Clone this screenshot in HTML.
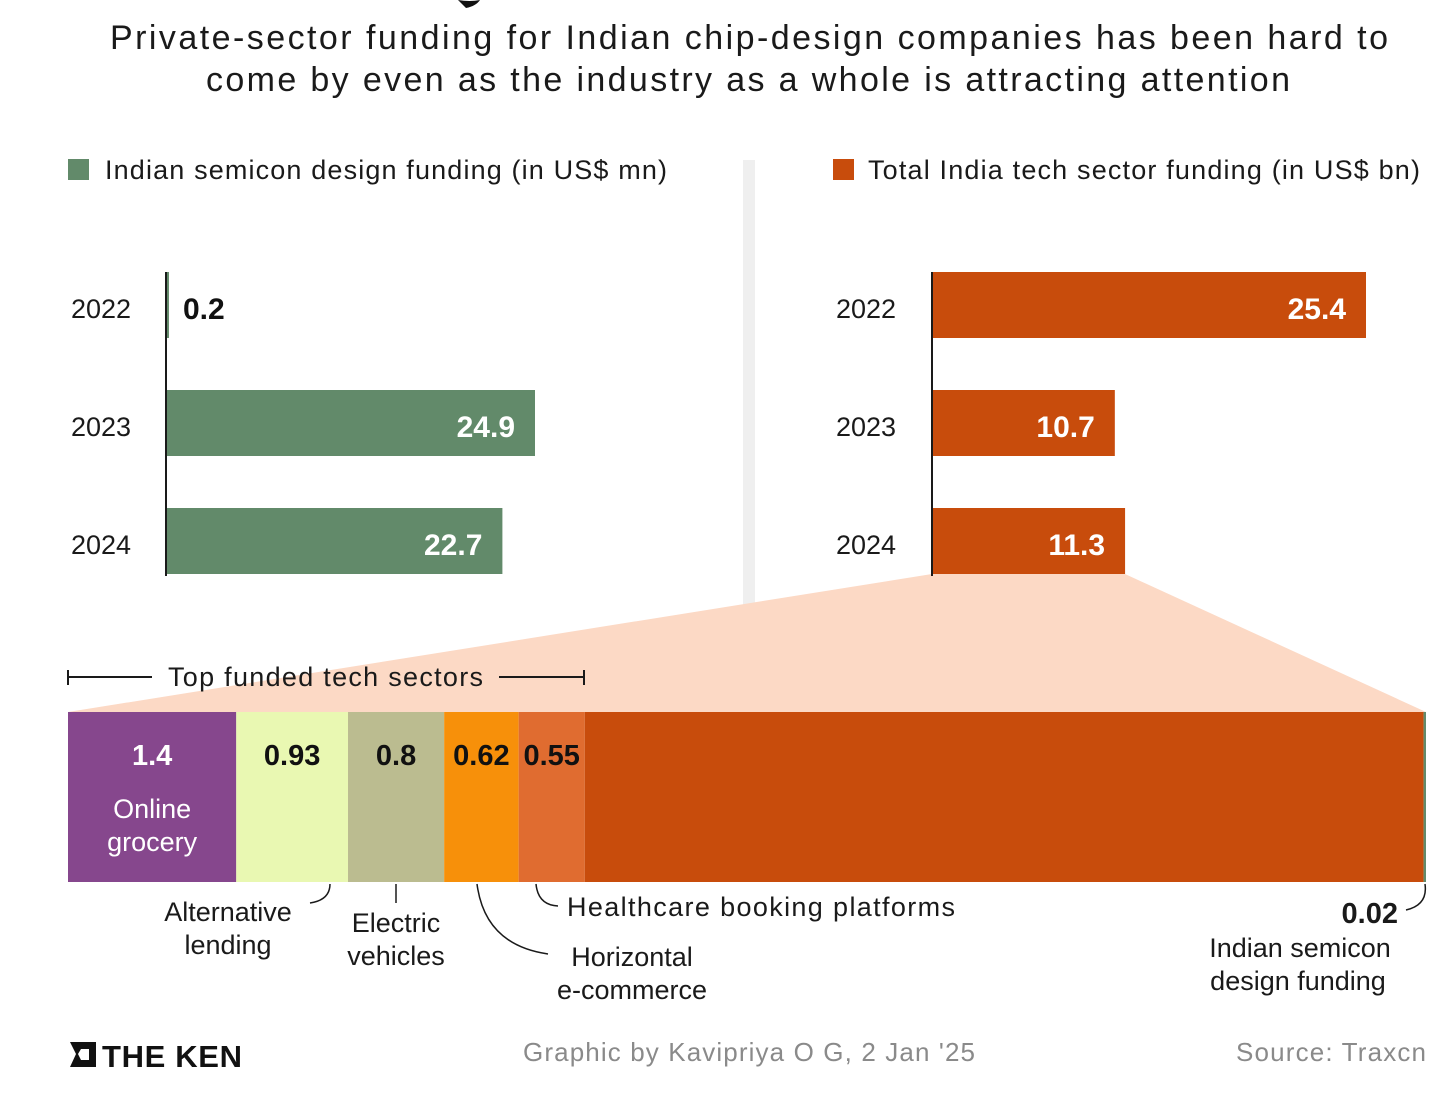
<!DOCTYPE html>
<html><head><meta charset="utf-8"><style>
html,body{margin:0;padding:0;background:#fff;}
svg{display:block;font-family:"Liberation Sans",sans-serif;}
</style></head><body>
<svg id="c" width="1456" height="1104" viewBox="0 0 1456 1104" xmlns="http://www.w3.org/2000/svg">
<path d="M458,0 Q470,2 480,0 Q476,6 466,8 Z" fill="#111"/>
<text x="749" y="49" text-anchor="middle" font-size="34" fill="#1a1a1a" textLength="1278">Private-sector funding for Indian chip-design companies has been hard to</text>
<text x="748" y="91" text-anchor="middle" font-size="34" fill="#1a1a1a" textLength="1084">come by even as the industry as a whole is attracting attention</text>
<rect x="68" y="159" width="21" height="21" fill="#628a6a"/>
<text x="105" y="179" font-size="27" fill="#1a1a1a" textLength="562">Indian semicon design funding (in US$ mn)</text>
<rect x="833" y="159" width="21" height="21" fill="#c84c0c"/>
<text x="868" y="179" font-size="27" fill="#1a1a1a" textLength="552">Total India tech sector funding (in US$ bn)</text>
<rect x="743" y="160" width="12" height="447" fill="#efefef"/>
<path d="M932,574 L1125,574 L1426,712 L68,712 Z" fill="#fcd9c5"/>
<g id="left"></g><g id="right"></g><g id="stack"></g>
<line x1="68" y1="677" x2="152" y2="677" stroke="#1a1a1a" stroke-width="2"/>
<line x1="68" y1="670" x2="68" y2="685" stroke="#1a1a1a" stroke-width="2"/>
<text x="168" y="686" font-size="27" fill="#1a1a1a" textLength="315">Top funded tech sectors</text>
<line x1="499" y1="677" x2="584" y2="677" stroke="#1a1a1a" stroke-width="2"/>
<line x1="584" y1="670" x2="584" y2="685" stroke="#1a1a1a" stroke-width="2"/>
<g fill="none" stroke="#1a1a1a" stroke-width="1.5">
<path d="M330,884 Q330,900 310,903"/>
<path d="M396,884 L396,903"/>
<path d="M477,884 Q485,945 548,954"/>
<path d="M536,884 Q538,905 558,906"/>
<path d="M1425,884 Q1428,905 1406,910"/>
</g>
<g font-size="27" fill="#1a1a1a">
<text x="228" y="921" text-anchor="middle">Alternative</text>
<text x="228" y="954" text-anchor="middle">lending</text>
<text x="396" y="932" text-anchor="middle">Electric</text>
<text x="396" y="965" text-anchor="middle">vehicles</text>
<text x="567" y="916" textLength="388">Healthcare booking platforms</text>
<text x="632" y="966" text-anchor="middle">Horizontal</text>
<text x="632" y="999" text-anchor="middle">e-commerce</text>
<text x="1398" y="923" text-anchor="end" font-weight="bold" font-size="29">0.02</text>
<text x="1300" y="957" text-anchor="middle">Indian semicon</text>
<text x="1298" y="990" text-anchor="middle">design funding</text>
</g>
<g>
<path d="M70,1042 L96,1042 L96,1067 L70,1067 L76,1054 Z M81,1049 L78,1054 L81,1060 L89,1060 L89,1049 Z" fill="#111" fill-rule="evenodd"/>
<text x="102" y="1067" font-size="31" font-weight="bold" fill="#111" textLength="140">THE KEN</text>
</g>
<text x="749" y="1061" text-anchor="middle" font-size="26" fill="#8a8a8a" textLength="452">Graphic by Kavipriya O G, 2 Jan '25</text>
<text x="1426" y="1061" text-anchor="end" font-size="26" fill="#8a8a8a" textLength="190">Source: Traxcn</text>
</svg>
<script>
const years = ["2022","2023","2024"];
const semiconValues = [0.2, 24.9, 22.7];
const techValues = [25.4, 10.7, 11.3];
const sectorNames = ["Online grocery","Alternative lending","Electric vehicles","Horizontal e-commerce","Healthcare booking platforms","Other","Indian semicon design funding"];
const sectorValues = [1.4, 0.93, 0.8, 0.62, 0.55, 6.98, 0.02];
const sectorLabels = ["1.4","0.93","0.8","0.62","0.55","",""];
const sectorTotal = 11.3;

const NS="http://www.w3.org/2000/svg";
function mk(tag, attrs, parent){const e=document.createElementNS(NS,tag);for(const k in attrs)e.setAttribute(k,attrs[k]);parent.appendChild(e);return e;}
const barY = i => 272 + i*118;
const barH = 66;
function drawBars(gid, x0, scale, vals, color, prefix, yearX){
  const g=document.getElementById(gid);
  vals.forEach((v,i)=>{
    const w=v*scale, y=barY(i);
    const r=mk('rect',{x:x0,y:y,width:w,height:barH,fill:color},g);
    
    
    const yl=mk('text',{x:yearX,y:y+46,'font-size':27,fill:'#1a1a1a'},g);
    yl.textContent=years[i];
    
    
    const inside=w>80;
    const t=mk('text',{x:inside?x0+w-20:x0+w+14,y:y+47,'font-size':30,'font-weight':'bold',fill:inside?'#fff':'#111','text-anchor':inside?'end':'start'},g);
    t.textContent=v.toFixed(1);
    
    
  });
  const ax=mk('line',{x1:x0,y1:272,x2:x0,y2:576,stroke:'#1a1a1a','stroke-width':2},g);
  
  
}
drawBars('left',166,369/24.9,semiconValues,'#628a6a','semicon',71);
drawBars('right',932,434/25.4,techValues,'#c84c0c','tech',836);

const sg=document.getElementById('stack');
const sx0=68, sW=1358, sy=712, sH=170;
const colors=["#86478d","#e9f8b2","#bbbc90","#f7900a","#e06c30","#c84c0c","#628a6a"];
let acc=0;
sectorValues.forEach((v,i)=>{
  const x=sx0+acc/sectorTotal*sW, w=v/sectorTotal*sW;
  acc+=v;
  const r=mk('rect',{x:x,y:sy,width:w,height:sH,fill:colors[i]},sg);
  
  
  if(sectorLabels[i]){
    const t=mk('text',{x:x+w/2,y:sy+53,'font-size':29,'font-weight':'bold','text-anchor':'middle',fill:i==0?'#fff':'#111'},sg);
    t.textContent=sectorLabels[i];
    
    
  }
  if(i==0){
    ['Online','grocery'].forEach((s,j)=>{
      const t=mk('text',{x:x+w/2,y:sy+106+j*33,'font-size':27,'text-anchor':'middle',fill:'#fff'},sg);
      t.textContent=s;
      
      
    });
  }
});
</script>
</body></html>
